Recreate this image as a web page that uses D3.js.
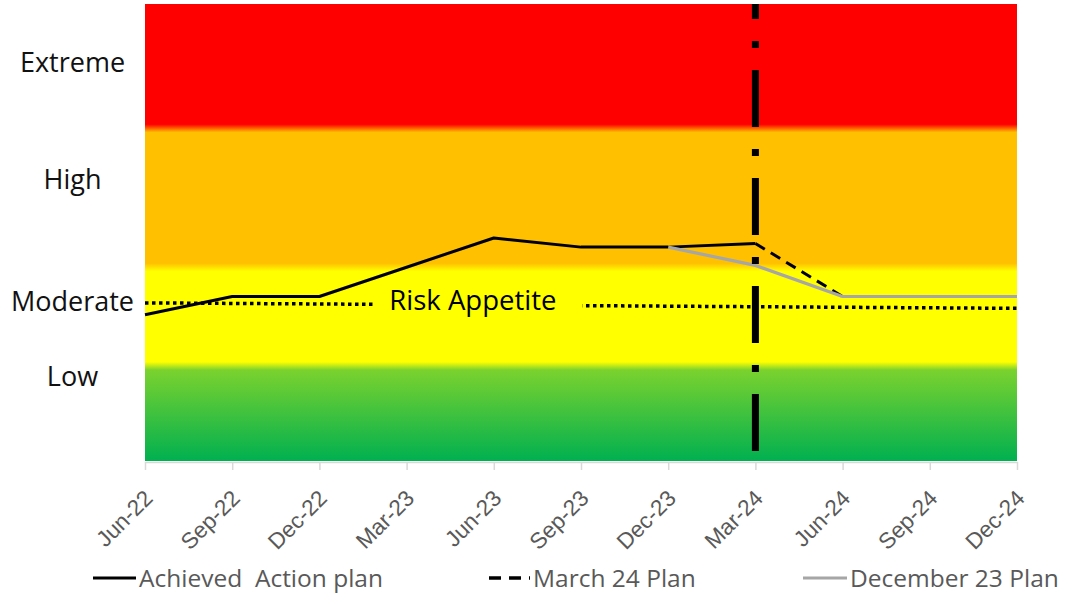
<!DOCTYPE html>
<html>
<head>
<meta charset="utf-8">
<script src="https://cdn.jsdelivr.net/npm/d3@7"></script>
<style>
  html, body { margin: 0; padding: 0; background: #fff; }
  svg { display: block; font-family: "Open Sans", "Liberation Sans", sans-serif; }
  .legend text { white-space: pre; }
</style>
</head>
<body>
<svg id="chart" width="1065" height="594"></svg>
<script>
// Quarter-end periods on the horizontal axis
const quarters = ["Jun-22", "Sep-22", "Dec-22", "Mar-23", "Jun-23", "Sep-23",
                  "Dec-23", "Mar-24", "Jun-24", "Sep-24", "Dec-24"];

// Risk score series (score scale 0–25)
const achieved = [
  { q: "Jun-22", v: 8.0 }, { q: "Sep-22", v: 9.0 }, { q: "Dec-22", v: 9.0 },
  { q: "Mar-23", v: 10.6 }, { q: "Jun-23", v: 12.2 }, { q: "Sep-23", v: 11.7 },
  { q: "Dec-23", v: 11.7 }, { q: "Mar-24", v: 11.9 }
];
const march24Plan = [
  { q: "Mar-24", v: 11.9 }, { q: "Jun-24", v: 9.0 }, { q: "Sep-24", v: 9.0 }, { q: "Dec-24", v: 9.0 }
];
const december23Plan = [
  { q: "Dec-23", v: 11.7 }, { q: "Mar-24", v: 10.7 }, { q: "Jun-24", v: 9.0 },
  { q: "Sep-24", v: 9.0 }, { q: "Dec-24", v: 9.0 }
];
const riskAppetite = [ { q: "Jun-22", v: 8.65 }, { q: "Dec-24", v: 8.35 } ];

// Rating bands (lower / upper score) and their colours
const bandNames   = ["Low", "Moderate", "High", "Extreme"];
const bandLower   = [0, 5.2, 10.6, 18.2];
const bandUpper   = [5.2, 10.6, 18.2, 25];
const bandColours = [["#00B050", "#7AD22E"], ["#FFFF00", "#FFFF00"], ["#FFC000", "#FFC000"], ["#FF0000", "#FF0000"]];
// Score at which each rating label sits beside the plot
const bandLabelAt = [4.6, 8.7, 15.4, 21.8];

const reviewQuarter = "Mar-24";     // date of the plan review marker
const appetiteLabel = "Risk Appetite";
const appetiteLabelAt = { i: 3.76, v: 8.8 };

const W = 1065, H = 594;
const margin = { left: 145, right: 48, top: 4, bottom: 133 };
const x0 = margin.left, x1 = W - margin.right;
const y0 = H - margin.bottom, y1 = margin.top;

const svg = d3.select("#chart");

const x = d3.scalePoint().domain(quarters).range([x0, x1]).padding(0);
const xi = d3.scaleLinear().domain([0, quarters.length - 1]).range([x0, x1]);
const y = d3.scaleLinear().domain([0, 25]).range([y0, y1]);

// ---- Background bands as one vertical gradient with soft edges ----
const defs = svg.append("defs");
const grad = defs.append("linearGradient")
  .attr("id", "bands").attr("gradientUnits", "userSpaceOnUse")
  .attr("x1", 0).attr("x2", 0).attr("y1", y(0)).attr("y2", y(25));
const soft = 0.22; // half-width of a band transition, in score units
bandNames.forEach((n, k) => {
  const lo = bandLower[k] + (k === 0 ? 0 : soft);
  const hi = bandUpper[k] - (k === bandNames.length - 1 ? 0 : soft);
  grad.append("stop").attr("offset", lo / 25).attr("stop-color", bandColours[k][0]);
  grad.append("stop").attr("offset", hi / 25).attr("stop-color", bandColours[k][1]);
});
svg.append("rect")
  .attr("x", x0).attr("y", y(25))
  .attr("width", x1 - x0).attr("height", y(0) - y(25))
  .attr("fill", "url(#bands)");

// ---- Rating labels to the left of the plot ----
svg.append("g").selectAll("text")
  .data(bandNames)
  .join("text")
  .attr("x", x0 / 2)
  .attr("y", (d, k) => y(bandLabelAt[k]))
  .attr("dy", "0.35em")
  .attr("text-anchor", "middle")
  .attr("font-size", 27)
  .attr("fill", "#111")
  .text(d => d);

// ---- Horizontal axis ----
const xAxis = svg.append("g")
  .attr("transform", `translate(0,${y0 + 1})`)
  .call(d3.axisBottom(x).tickSize(8).tickSizeOuter(0).tickFormat(() => ""));
xAxis.select(".domain").attr("stroke", "#D9D9D9").attr("stroke-width", 1.5);
xAxis.selectAll(".tick line").attr("stroke", "#D9D9D9").attr("stroke-width", 1.5);
xAxis.selectAll(".tick").append("text")
  .attr("transform", "translate(3,32) rotate(-45)")
  .attr("text-anchor", "end")
  .attr("dy", "0.35em")
  .attr("fill", "#595959")
  .attr("font-size", 22.5)
  .text(d => d);

// ---- Risk appetite dotted line with its caption ----
const line = d3.line().x(d => x(d.q)).y(d => y(d.v));
svg.append("path")
  .datum(riskAppetite)
  .attr("d", line)
  .attr("fill", "none")
  .attr("stroke", "#000")
  .attr("stroke-width", 3.5)
  .attr("stroke-dasharray", "3.5,3.5");
const capG = svg.append("g");
const cap = capG.append("text")
  .attr("x", xi(appetiteLabelAt.i))
  .attr("y", y(appetiteLabelAt.v))
  .attr("dy", "0.35em")
  .attr("text-anchor", "middle")
  .attr("font-size", 27.5)
  .attr("fill", "#000")
  .text(appetiteLabel);
const bb = cap.node().getBBox();
capG.insert("rect", "text")
  .attr("x", bb.x - 14).attr("y", bb.y)
  .attr("width", bb.width + 40).attr("height", bb.height)
  .attr("fill", "#FFFF00");

// ---- Series lines ----
svg.append("path").datum(march24Plan).attr("d", line)
  .attr("fill", "none").attr("stroke", "#000").attr("stroke-width", 3)
  .attr("stroke-dasharray", "11,7");
svg.append("path").datum(achieved).attr("d", line)
  .attr("fill", "none").attr("stroke", "#000").attr("stroke-width", 3)
  .attr("stroke-linejoin", "round");
svg.append("path").datum(december23Plan).attr("d", line)
  .attr("fill", "none").attr("stroke", "#A6A6A6").attr("stroke-width", 3.2)
  .attr("stroke-linejoin", "round");

// ---- Plan review marker (dash-dot vertical) ----
svg.append("line")
  .attr("x1", x(reviewQuarter)).attr("x2", x(reviewQuarter))
  .attr("y1", y(25)).attr("y2", y(0))
  .attr("stroke", "#000").attr("stroke-width", 7)
  .attr("stroke-dasharray", "57,22,7,22")
  .attr("stroke-dashoffset", 42);

// ---- Legend ----
const legendItems = [
  { label: "Achieved  Action plan", colour: "#000", dash: null, width: 3, x: 93, len: 43 },
  { label: "March 24 Plan", colour: "#000", dash: "12,8", width: 3.5, x: 489, len: 41 },
  { label: "December 23 Plan", colour: "#A6A6A6", dash: null, width: 3, x: 803, len: 44 }
];
const ly = 578;
const lg = svg.append("g").attr("class", "legend")
  .selectAll("g").data(legendItems).join("g")
  .attr("transform", d => `translate(${d.x},${ly})`);
lg.append("line")
  .attr("x1", 0).attr("x2", d => d.len).attr("y1", 0).attr("y2", 0)
  .attr("stroke", d => d.colour).attr("stroke-width", d => d.width)
  .attr("stroke-dasharray", d => d.dash);
lg.append("text")
  .attr("x", d => d.len + 3)
  .attr("dy", "0.35em")
  .attr("font-size", 24.5)
  .attr("fill", "#595959")
  .text(d => d.label);
</script>
</body>
</html>
